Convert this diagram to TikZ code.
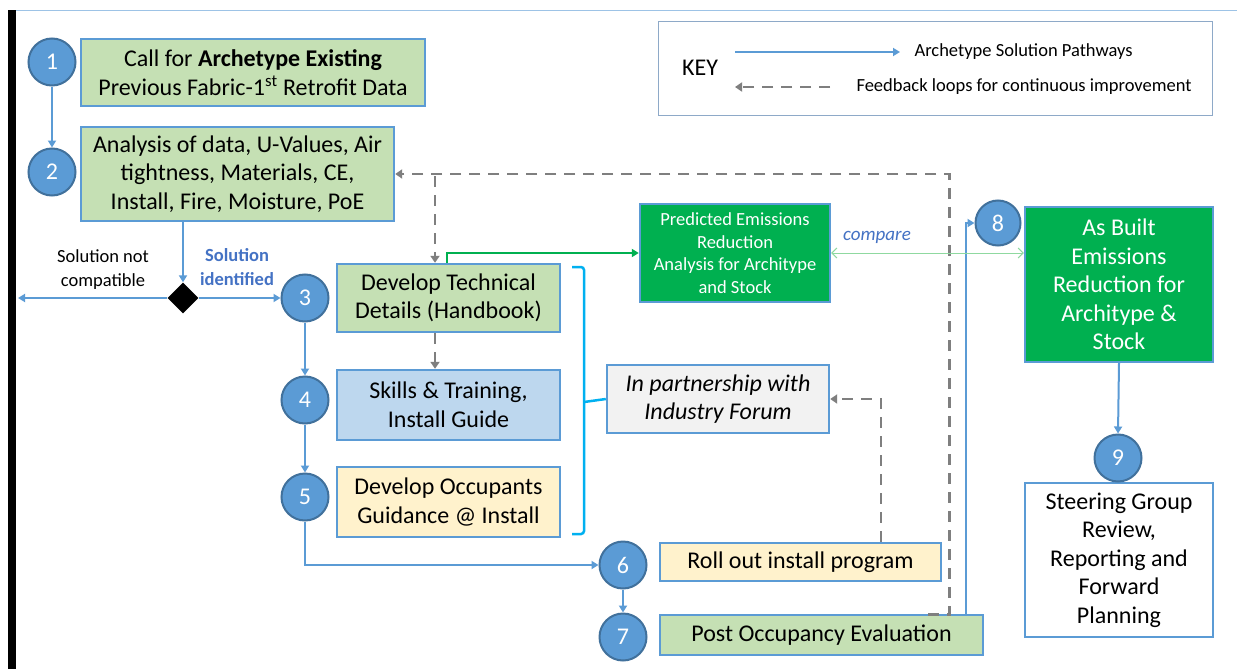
\documentclass[tikz,border=0pt]{standalone}
\usepackage{fontspec}
\setmainfont{Carlito}
\usetikzlibrary{arrows.meta,shapes.geometric,calc}
\definecolor{bborder}{HTML}{5B9BD5}
\definecolor{cfill}{HTML}{5B9BD5}
\definecolor{cborder}{HTML}{41719C}
\definecolor{lgreen}{HTML}{C5E0B4}
\definecolor{lblue}{HTML}{BDD7EE}
\definecolor{lyellow}{HTML}{FFF2CC}
\definecolor{lgray}{HTML}{F2F2F2}
\definecolor{dgreen}{HTML}{00B050}
\definecolor{fbgray}{HTML}{7F7F7F}
\definecolor{brack}{HTML}{00B0F0}
\definecolor{cmpline}{HTML}{8FD9A0}
\definecolor{txtblue}{HTML}{4472C4}
\definecolor{keyborder}{HTML}{8EA9C8}
\tikzset{
  box/.style={draw=bborder,line width=2.4pt,align=center,inner sep=2pt,
    font=\fontsize{24}{28.5}\selectfont,text=black},
  num/.style={circle,draw=cborder,fill=cfill,line width=2pt,minimum size=47pt,
    inner sep=0pt,text=white,font=\fontsize{24}{26}\selectfont},
  flow/.style={draw=bborder,line width=2pt,-{Triangle[length=7pt,width=8pt]}},
  fb/.style={draw=fbgray,line width=2.8pt,dash pattern=on 11pt off 8pt,
    -{Triangle[length=7pt,width=9pt]}},
  small/.style={font=\fontsize{18.5}{24}\selectfont,align=center},
}
\begin{document}
\begin{tikzpicture}[x=1pt,y=-1pt]
\useasboundingbox (0,0) rectangle (1237,669);
\fill[white] (0,0) rectangle (1237,669);
% frame
\draw[bborder!60,line width=1pt] (16,10.5) -- (1237,10.5);
\fill[black] (8,10) rectangle (16,669);

% key
\draw[keyborder,line width=1pt] (658,22) rectangle (1212,115);
\node[font=\fontsize{24}{26}\selectfont] (key) at (700,68) {KEY};
\coordinate (k1a) at (735,52);
\coordinate (k1b) at (900,52);
\draw[draw=bborder,line width=2pt,-{Triangle[length=7pt,width=8pt]}] (k1a) -- (k1b);
\node[font=\fontsize{18.5}{20}\selectfont,anchor=west] (k1t) at (911,52) {Archetype Solution Pathways};
\coordinate (k2a) at (830,87);
\coordinate (k2b) at (735,87);
\draw[fb,line width=2.5pt] (k2a) -- (k2b);
\node[font=\fontsize{18.5}{20}\selectfont,anchor=west] (k2t) at (853,87) {Feedback loops for continuous improvement};

% boxes
\node[box,fill=lgreen,minimum width=344pt,minimum height=67pt] (b1) at (253,72.5)
  {Call for \textbf{Archetype Existing}\\Previous Fabric-1\textsuperscript{st} Retrofit Data};
\node[box,fill=lgreen,minimum width=313pt,minimum height=94pt] (b2) at (237.5,174)
  {Analysis of data, U-Values, Air\\tightness, Materials, CE,\\Install, Fire, Moisture, PoE};
\node[box,fill=lgreen,minimum width=223pt,minimum height=68pt] (b3) at (448.5,298)
  {Develop Technical\\Details (Handbook)};
\node[box,fill=lblue,minimum width=223pt,minimum height=70pt] (b4) at (448.5,405)
  {Skills \& Training,\\Install Guide};
\node[box,fill=lyellow,minimum width=223pt,minimum height=70pt] (b5) at (448.5,502)
  {Develop Occupants\\Guidance @ Install};
\node[box,fill=lyellow,minimum width=281pt,minimum height=38pt] (b6) at (800.5,562)
  {Roll out install program};
\node[box,fill=lgreen,minimum width=323pt,minimum height=40pt] (b7) at (821.5,635)
  {Post Occupancy Evaluation};
\node[box,fill=lgray,minimum width=222pt,minimum height=68pt,font=\fontsize{24}{28.5}\selectfont\itshape] (ind) at (718,399)
  {In partnership with\\Industry Forum};
\node[box,fill=dgreen,minimum width=190pt,minimum height=98pt,text=white,font=\fontsize{18.5}{22.7}\selectfont] (pred) at (735,253)
  {Predicted Emissions\\Reduction\\Analysis for Architype\\and Stock};
\node[box,fill=dgreen,minimum width=188pt,minimum height=155pt,text=white] (asb) at (1119,284.5)
  {As Built\\Emissions\\Reduction for\\Architype \&\\Stock};
\node[box,fill=white,minimum width=188pt,minimum height=154pt] (steer) at (1119,560)
  {Steering Group\\Review,\\Reporting and\\Forward\\Planning};

% circles
\node[num] (c1) at (52,62) {1};
\node[num] (c2) at (52,172) {2};
\node[num] (c3) at (305,298) {3};
\node[num] (c4) at (305,400) {4};
\node[num] (c5) at (305,497) {5};
\node[num] (c6) at (623,565) {6};
\node[num] (c7) at (623,637) {7};
\node[num,minimum size=45pt] (c8) at (998,223) {8};
\node[num] (c9) at (1118,458) {9};

% decision
\node[diamond,fill=black,inner sep=0pt,minimum width=31pt,minimum height=31pt] (dia) at (183,298) {};
\coordinate (leftend) at (18,298);
\node[small] (nc) at (103,270) {Solution not\\compatible};
\node[small,font=\fontsize{18.5}{24}\selectfont\bfseries,text=txtblue] (si) at (237,267) {Solution\\identified};

% flow connectors
\draw[flow] (c1) -- (c2);
\draw[flow] (dia |- b2.south) -- (dia.north);
\draw[flow] (dia.west) -- (leftend);
\draw[flow] (dia.east) -- (c3.west);
\draw[flow] (c3) -- (c4);
\draw[flow] (c4) -- (c5);
\draw[flow] (c5.south) |- (c6.west);
\draw[flow] (c6) -- (c7);
\draw[flow] ($(b7.north east)+(-18,0)$) |- (c8.west);
\draw[flow] (asb.south) -- (c9.north);

% feedback loops
\coordinate (j1) at (435,176);
\draw[fb] ($(b7.north east)+(-56,1)$) -- ($(b7.north east)+(-35,1)$) |- (b2.east);
\draw[fb] (j1) -- (j1 |- b3.north);
\draw[fb] (b3.south -| j1) -- (b4.north -| j1);
\draw[fb] (b6.north -| 881,0) |- (ind.east);

% green path to predicted
\draw[dgreen,line width=2pt,-{Triangle[length=7pt,width=8pt]}] (b3.north -| 447,0) |- (pred.west);
% compare
\draw[cmpline,line width=1pt,{Straight Barb[length=5pt,width=10pt]}-{Straight Barb[length=5pt,width=10pt]}] (pred.east) -- (asb.west |- pred.east);
\node[font=\fontsize{19}{22}\selectfont\itshape,text=txtblue] (cmp) at (877,237) {compare};

% bracket
\draw[brack,line width=2.5pt,rounded corners=3pt] (572,267) -- (584,267) -- (584,534) -- (572,534);
\draw[brack,line width=2.5pt] (584,402) -- (ind.west);
\end{tikzpicture}
\end{document}
